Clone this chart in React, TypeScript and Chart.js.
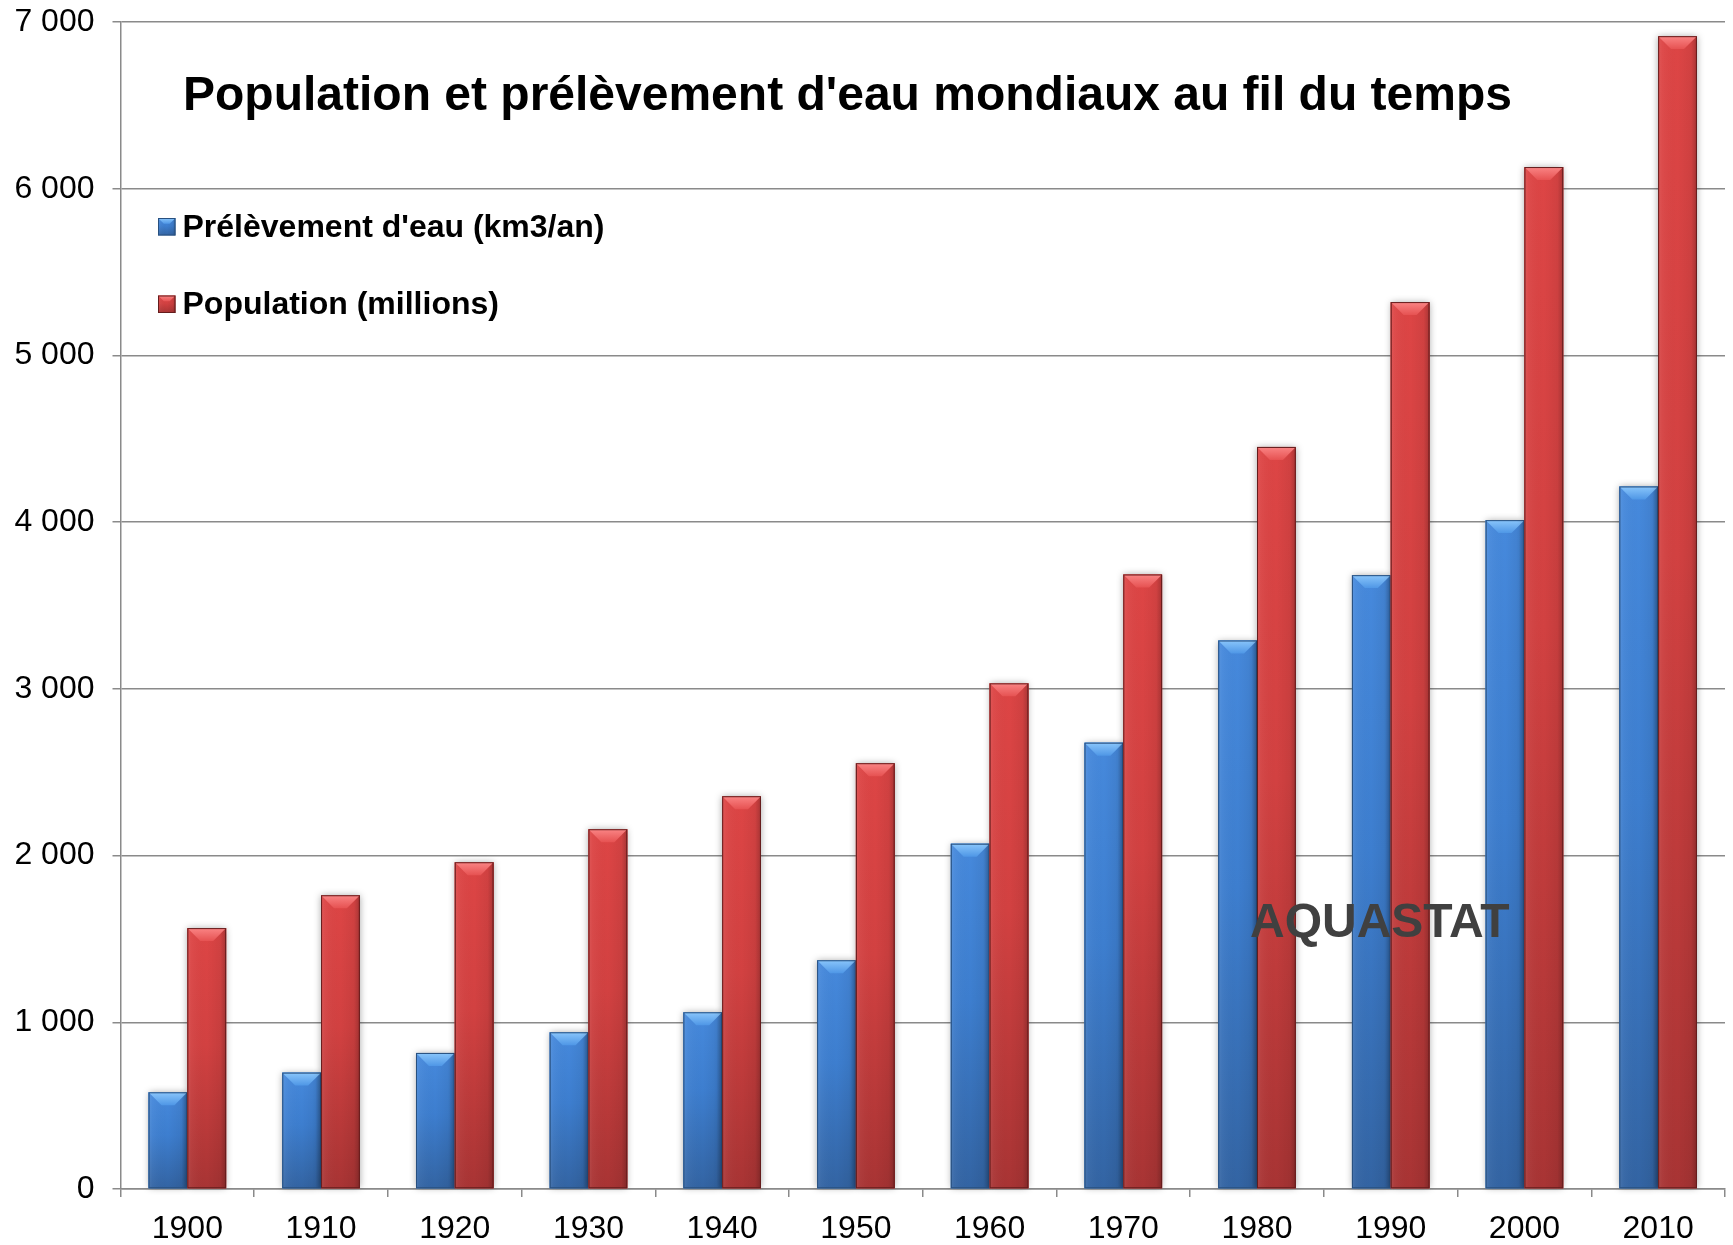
import React, { useEffect, useRef } from "react";
import { Chart, registerables } from "chart.js";

Chart.register(...registerables);

// ---------- data ----------
const categories = ["1900", "1910", "1920", "1930", "1940", "1950", "1960", "1970", "1980", "1990", "2000", "2010"];
const withdrawalValues = [580, 698, 816, 940, 1060, 1372, 2071, 2677, 3290, 3682, 4012, 4214];
const populationValues = [1565, 1762, 1960, 2158, 2356, 2554, 3033, 3686, 4451, 5320, 6130, 6915];
const seriesLabels = ["Prélèvement d'eau (km3/an)", "Population (millions)"];
const yTickValues = [0, 1000, 2000, 3000, 4000, 5000, 6000, 7000];
const titleText = "Population et prélèvement d'eau mondiaux au fil du temps";
const watermarkText = "AQUASTAT";

// ---------- style ----------
const W = 1733;
const H = 1245;
const FONT = '"Liberation Sans", Arial, Helvetica, sans-serif';
const GRID = "#8a8a8a";

const PALETTES = [
  { base: "#3d7fd0", top: "#4689dc", mid: "#3d7ecf", bottom: "#3364a3", bevelTop: "#8ac6fb", bevelBottom: "#4f97e6", border: "#28507f" },
  { base: "#d44141", top: "#dd4545", mid: "#d24141", bottom: "#a83434", bevelTop: "#fa8585", bevelBottom: "#e65252", border: "#641c1c" },
];

function fmt(v: number): string {
  return String(v).replace(/\B(?=(\d{3})+(?!\d))/g, " ");
}

function drawBevelBox(ctx: CanvasRenderingContext2D, l: number, t: number, w: number, h: number, pal: any, bevelMax: number, shadow: boolean) {
  if (w <= 0 || h <= 0) return;
  ctx.save();
  if (shadow) {
    ctx.shadowColor = "rgba(0,0,0,0.35)";
    ctx.shadowBlur = 7;
    ctx.fillStyle = pal.base;
    ctx.fillRect(l, t, w, h);
    ctx.shadowColor = "rgba(0,0,0,0)";
    ctx.shadowBlur = 0;
  }
  const gv = ctx.createLinearGradient(0, t, 0, t + h);
  gv.addColorStop(0, pal.top);
  gv.addColorStop(0.45, pal.mid);
  gv.addColorStop(1, pal.bottom);
  ctx.fillStyle = gv;
  ctx.fillRect(l, t, w, h);
  const gh = ctx.createLinearGradient(l, 0, l + w, 0);
  gh.addColorStop(0, "rgba(255,255,255,0.10)");
  gh.addColorStop(0.1, "rgba(255,255,255,0.04)");
  gh.addColorStop(0.5, "rgba(0,0,0,0)");
  gh.addColorStop(0.85, "rgba(0,0,0,0.06)");
  gh.addColorStop(1, "rgba(0,0,0,0.24)");
  ctx.fillStyle = gh;
  ctx.fillRect(l, t, w, h);
  const bv = Math.min(bevelMax, w / 3, h / 2);
  const gb = ctx.createLinearGradient(0, t, 0, t + bv);
  gb.addColorStop(0, pal.bevelTop);
  gb.addColorStop(1, pal.bevelBottom);
  ctx.beginPath();
  ctx.moveTo(l, t);
  ctx.lineTo(l + w, t);
  ctx.lineTo(l + w - bv, t + bv);
  ctx.lineTo(l + bv, t + bv);
  ctx.closePath();
  ctx.fillStyle = gb;
  ctx.fill();
  ctx.strokeStyle = pal.border;
  ctx.lineWidth = 1;
  ctx.strokeRect(l + 0.5, t + 0.5, w - 1, h - 1);
  ctx.restore();
}

const barStylePlugin = {
  id: "barStyle",
  afterDatasetsDraw(chart: any) {
    const ctx: CanvasRenderingContext2D = chart.ctx;
    chart.data.datasets.forEach((_ds: any, di: number) => {
      const meta = chart.getDatasetMeta(di);
      if (meta.hidden) return;
      const pal = PALETTES[di % PALETTES.length];
      meta.data.forEach((el: any) => {
        const p = el.getProps(["x", "y", "base", "width"], true);
        const l = p.x - p.width / 2;
        const t = Math.min(p.y, p.base);
        const b = Math.max(p.y, p.base);
        drawBevelBox(ctx, l, t, p.width, b - t, pal, 13, true);
      });
    });
  },
};

const overlayPlugin = {
  id: "overlayText",
  afterDraw(chart: any) {
    const ctx: CanvasRenderingContext2D = chart.ctx;
    ctx.save();
    ctx.fillStyle = "#000000";
    ctx.textBaseline = "alphabetic";
    ctx.textAlign = "left";
    ctx.font = `bold 48px ${FONT}`;
    ctx.fillText(titleText, 183, 110);
    ctx.font = `bold 32px ${FONT}`;
    chart.data.datasets.forEach((ds: any, i: number) => {
      const y0 = 218 + i * 77.5;
      drawBevelBox(ctx, 158, y0, 17.5, 17.5, PALETTES[i], 6, false);
      ctx.fillStyle = "#000000";
      ctx.fillText(ds.label, 182.5, 237 + i * 77);
    });
    ctx.font = `bold 48px ${FONT}`;
    ctx.fillStyle = "#404040";
    ctx.fillText(watermarkText, 1250, 937);
    ctx.restore();
  },
};

export default function App() {
  const ref = useRef<HTMLCanvasElement | null>(null);

  useEffect(() => {
    document.body.style.margin = "0";
    document.body.style.overflow = "hidden";
    const canvas = ref.current;
    if (!canvas) return;
    const tickFont = { family: FONT, size: 32, weight: "normal" as const };
    const chart = new Chart(canvas, {
      type: "bar",
      data: {
        labels: categories,
        datasets: [
          { label: seriesLabels[0], data: withdrawalValues, backgroundColor: PALETTES[0].base, borderWidth: 0 },
          { label: seriesLabels[1], data: populationValues, backgroundColor: PALETTES[1].base, borderWidth: 0 },
        ],
      },
      options: {
        responsive: false,
        animation: false,
        devicePixelRatio: 1,
        layout: { padding: { top: 22, right: 8, bottom: 0, left: 0 } },
        datasets: { bar: { categoryPercentage: 0.58, barPercentage: 1.0 } },
        plugins: {
          legend: { display: false },
          title: { display: false },
          tooltip: { enabled: false },
        },
        scales: {
          x: {
            grid: {
              display: true,
              drawOnChartArea: false,
              drawTicks: true,
              tickLength: 8,
              color: GRID,
              lineWidth: 1.5,
              offset: true,
            },
            border: { display: true, color: GRID, width: 1.5 },
            ticks: { font: tickFont, color: "#000000", padding: 13, maxRotation: 0, autoSkip: false },
            afterFit(scale: any) {
              scale.height = 56;
            },
          },
          y: {
            min: 0,
            max: 7000,
            afterBuildTicks(scale: any) {
              scale.ticks = yTickValues.map((v) => ({ value: v }));
            },
            ticks: {
              font: tickFont,
              color: "#000000",
              padding: 18,
              callback: (v: any) => fmt(Number(v)),
            },
            grid: { color: GRID, lineWidth: 1.5, tickLength: 8, drawTicks: true },
            border: { display: true, color: GRID, width: 1.5 },
            afterFit(scale: any) {
              scale.width = 120.5;
              scale.paddingTop = 0;
              scale.paddingBottom = 0;
            },
          },
        },
      },
      plugins: [barStylePlugin, overlayPlugin],
    });
    return () => chart.destroy();
  }, []);

  return (
    <div style={{ position: "absolute", left: 0, top: 0, width: W, height: H, background: "#ffffff" }}>
      <canvas ref={ref} width={W} height={H} style={{ display: "block", width: W, height: H }} />
    </div>
  );
}
